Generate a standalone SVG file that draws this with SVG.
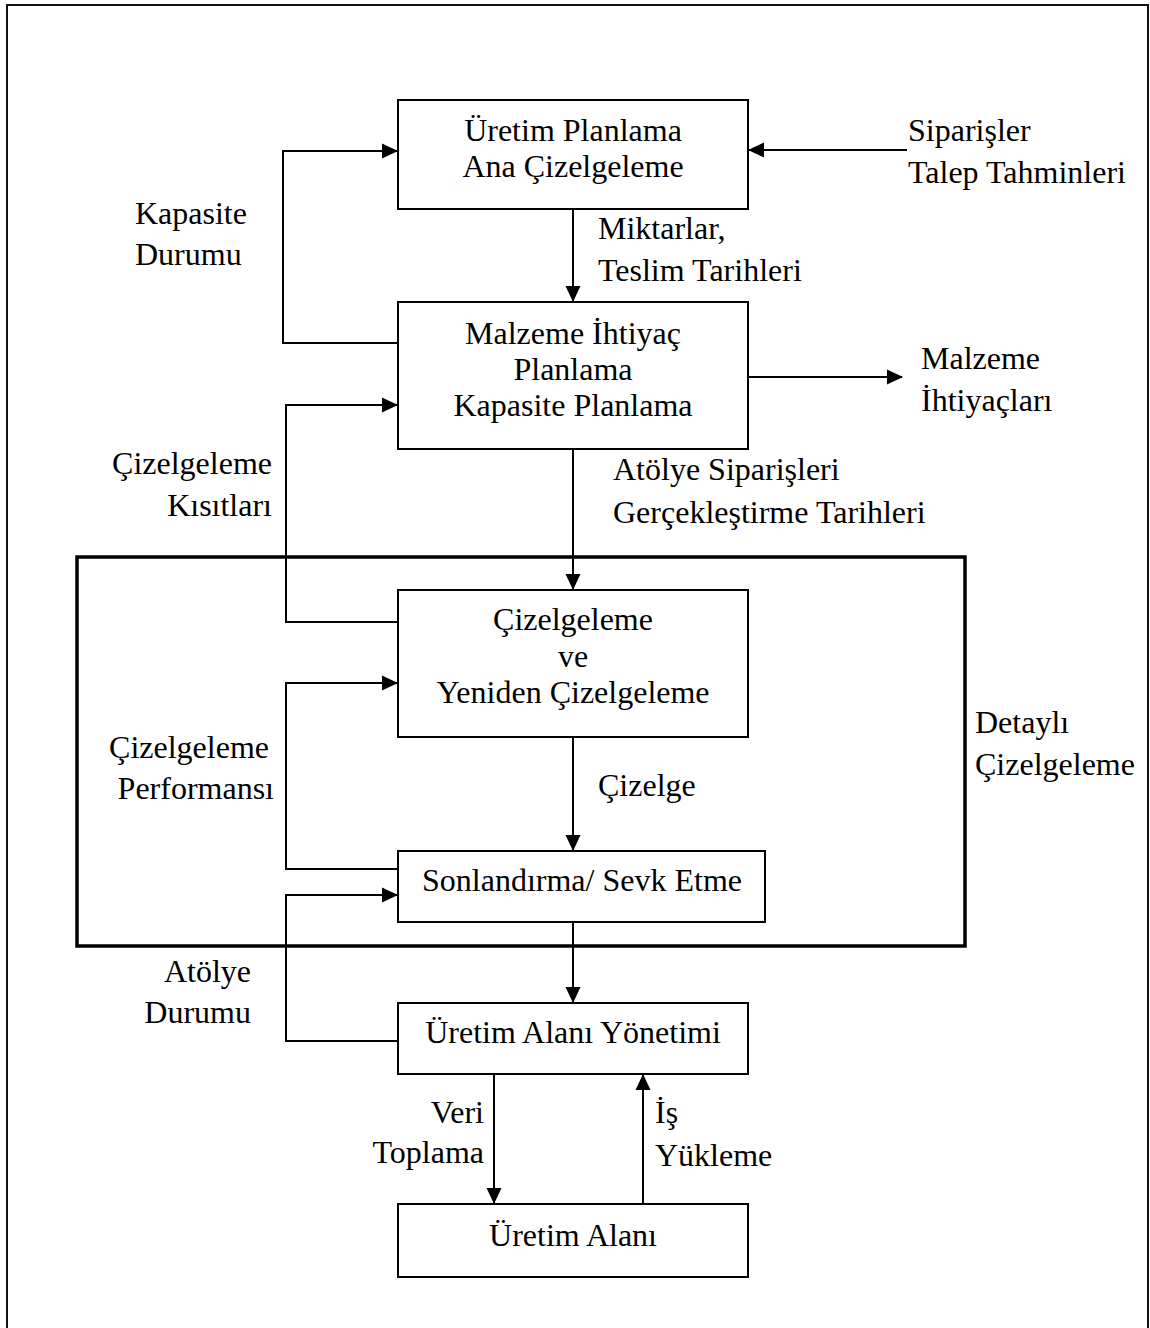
<svg xmlns="http://www.w3.org/2000/svg" width="1150" height="1328" viewBox="0 0 1150 1328">
  <style>
    text { font-family: "Liberation Serif", "Times New Roman", serif; font-size: 32px; fill: #000; }
    .box { fill: #fff; stroke: #000; stroke-width: 2; }
    .wire { fill: none; stroke: #000; stroke-width: 2; marker-end: url(#arrow); }
    .mid { text-anchor: middle; }
    .end { text-anchor: end; }
  </style>
  <defs>
    <marker id="arrow" markerUnits="userSpaceOnUse" markerWidth="16" markerHeight="16" refX="15" refY="8" orient="auto">
      <path d="M0,0.5 L16,8 L0,15.5 z" fill="#000"/>
    </marker>
  </defs>

  <rect width="1150" height="1328" fill="#fff"/>
  <!-- page frame -->
  <rect x="7" y="5" width="1141" height="1340" fill="none" stroke="#111" stroke-width="2"/>

  <!-- detailed scheduling region -->
  <g id="detayli-cizelgeleme">
    <rect x="77" y="557" width="888" height="389" fill="none" stroke="#000" stroke-width="3.5"/>
    <text x="975" y="733">Detaylı</text>
    <text x="975" y="775">Çizelgeleme</text>
  </g>

  <!-- connectors -->
  <g id="connectors">
    <polyline class="wire" points="398,343 283,343 283,151 397,151"/>
    <line class="wire" x1="907" y1="150" x2="749" y2="150"/>
    <line class="wire" x1="573" y1="209" x2="573" y2="301"/>
    <line class="wire" x1="748" y1="377" x2="902" y2="377"/>
    <polyline class="wire" points="398,622 286,622 286,405 397,405"/>
    <line class="wire" x1="573" y1="449" x2="573" y2="589"/>
    <polyline class="wire" points="398,869 286,869 286,683 397,683"/>
    <line class="wire" x1="573" y1="737" x2="573" y2="850"/>
    <polyline class="wire" points="398,1041 286,1041 286,895 397,895"/>
    <line class="wire" x1="573" y1="922" x2="573" y2="1002"/>
    <line class="wire" x1="494" y1="1074" x2="494" y2="1203"/>
    <line class="wire" x1="643" y1="1204" x2="643" y2="1075"/>
  </g>

  <!-- connector labels -->
  <g id="labels">
    <text x="908" y="141">Siparişler</text>
    <text x="908" y="183">Talep Tahminleri</text>
    <text x="135" y="224">Kapasite</text>
    <text x="135" y="265">Durumu</text>
    <text x="598" y="239">Miktarlar,</text>
    <text x="598" y="281">Teslim Tarihleri</text>
    <text x="921" y="369">Malzeme</text>
    <text x="921" y="411">İhtiyaçları</text>
    <text x="613" y="480">Atölye Siparişleri</text>
    <text x="613" y="523">Gerçekleştirme Tarihleri</text>
    <text class="end" x="272" y="474">Çizelgeleme</text>
    <text class="end" x="272" y="516">Kısıtları</text>
    <text class="end" x="269" y="758">Çizelgeleme</text>
    <text class="end" x="274" y="799">Performansı</text>
    <text x="598" y="796">Çizelge</text>
    <text class="end" x="251" y="982">Atölye</text>
    <text class="end" x="251" y="1023">Durumu</text>
    <text class="end" x="484" y="1123">Veri</text>
    <text class="end" x="484" y="1163">Toplama</text>
    <text x="655" y="1123">İş</text>
    <text x="655" y="1166">Yükleme</text>
  </g>

  <g id="uretim-planlama">
    <rect class="box" x="398" y="100" width="350" height="109"/>
    <text class="mid" x="573" y="141">Üretim Planlama</text>
    <text class="mid" x="573" y="177">Ana Çizelgeleme</text>
  </g>

  <g id="malzeme-ihtiyac">
    <rect class="box" x="398" y="302" width="350" height="147"/>
    <text class="mid" x="573" y="344">Malzeme İhtiyaç</text>
    <text class="mid" x="573" y="380">Planlama</text>
    <text class="mid" x="573" y="416">Kapasite Planlama</text>
  </g>

  <g id="cizelgeleme">
    <rect class="box" x="398" y="590" width="350" height="147"/>
    <text class="mid" x="573" y="630">Çizelgeleme</text>
    <text class="mid" x="573" y="667">ve</text>
    <text class="mid" x="573" y="703">Yeniden Çizelgeleme</text>
  </g>

  <g id="sonlandirma">
    <rect class="box" x="398" y="851" width="367" height="71"/>
    <text class="mid" x="582" y="891">Sonlandırma/ Sevk Etme</text>
  </g>

  <g id="uretim-alani-yonetimi">
    <rect class="box" x="398" y="1003" width="350" height="71"/>
    <text class="mid" x="573" y="1043">Üretim Alanı Yönetimi</text>
  </g>

  <g id="uretim-alani">
    <rect class="box" x="398" y="1204" width="350" height="73"/>
    <text class="mid" x="573" y="1246">Üretim Alanı</text>
  </g>
</svg>
